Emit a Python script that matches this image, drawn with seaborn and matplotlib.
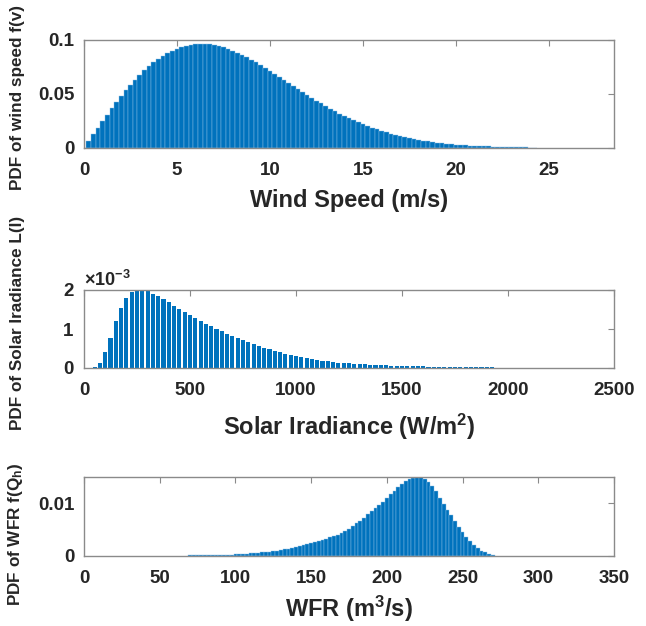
import numpy as np
import pandas as pd
import matplotlib
matplotlib.use("Agg")
import matplotlib.pyplot as plt
from matplotlib.ticker import FuncFormatter
import seaborn as sns

# PDF of wind speed, one bar every 0.25 m/s starting at 0
wind_start, wind_step = 0.0, 0.25
wind_pdf = [0.0, 0.0063, 0.0126, 0.0188, 0.0249, 0.0310, 0.0368, 0.0425, 0.0480, 0.0533,
            0.0583, 0.0631, 0.0676, 0.0718, 0.0757, 0.0793, 0.0825, 0.0854, 0.0880, 0.0902,
            0.0921, 0.0936, 0.0948, 0.0956, 0.0962, 0.0964, 0.0963, 0.0959, 0.0952, 0.0943,
            0.0931, 0.0917, 0.0900, 0.0882, 0.0862, 0.0840, 0.0817, 0.0793, 0.0768, 0.0741,
            0.0714, 0.0687, 0.0659, 0.0631, 0.0603, 0.0575, 0.0547, 0.0519, 0.0492, 0.0465,
            0.0439, 0.0413, 0.0389, 0.0365, 0.0342, 0.0319, 0.0298, 0.0277, 0.0258, 0.0239,
            0.0221, 0.0205, 0.0188, 0.0173, 0.0159, 0.0146, 0.0134, 0.0122, 0.0112, 0.0102,
            0.0093, 0.0084, 0.0076, 0.0069, 0.0062, 0.0056, 0.0050, 0.0045, 0.0041, 0.0036,
            0.0032, 0.0029, 0.0026, 0.0023, 0.0020, 0.0018, 0.0016, 0.0014, 0.0012, 0.0011,
            0.00095, 0.00083, 0.00073, 0.00064, 0.00055, 0.00049, 0.0004, 0.00037]

# PDF of solar irradiance, one bar every 25 W/m2 starting at 50
solar_start, solar_step = 50.0, 25.0
solar_pdf = [0.00002, 0.00012, 0.00040, 0.00078, 0.00120, 0.00155, 0.00180, 0.00194, 0.00199, 0.00200,
             0.00197, 0.00191, 0.00184, 0.00177, 0.00169, 0.00160, 0.00152, 0.00144, 0.00136, 0.00128,
             0.00121, 0.00114, 0.00107, 0.00100, 0.00094, 0.00088, 0.00082, 0.00077, 0.00072, 0.00067,
             0.00062, 0.00057, 0.00052, 0.00048, 0.00044, 0.00040, 0.00036, 0.00033, 0.00030, 0.00027,
             0.00025, 0.00023, 0.00021, 0.00019, 0.00017, 0.000155, 0.00014, 0.00013, 0.00012, 0.00011,
             0.00010, 0.000094, 0.000087, 0.000080, 0.000074, 0.000068, 0.000063, 0.000058, 0.000054, 0.000050,
             0.000046, 0.000043, 0.000040, 0.000037, 0.000034, 0.000032, 0.000030, 0.000028, 0.000026, 0.000024,
             0.000022, 0.000021, 0.000020, 0.000019, 0.000018, 0.000017]

# PDF of water flow rate, one bar every 2.5 m3/s starting at 70
wfr_start, wfr_step = 70.0, 2.5
wfr_pdf = [0.00010, 0.00011, 0.00012, 0.00013, 0.00014, 0.00016, 0.00017, 0.00019, 0.00021, 0.00023,
           0.00025, 0.00027, 0.00030, 0.00033, 0.00036, 0.00040, 0.00048, 0.00054, 0.00060, 0.00067,
           0.00076, 0.00084, 0.00093, 0.00103, 0.00114, 0.00126, 0.00140, 0.00155, 0.00170, 0.00187,
           0.00204, 0.00222, 0.00242, 0.00262, 0.00283, 0.00305, 0.00328, 0.00352, 0.00378, 0.00406,
           0.00436, 0.00468, 0.0052, 0.0057, 0.0062, 0.0067, 0.0073, 0.0079, 0.0085, 0.0091,
           0.0097, 0.0103, 0.0110, 0.0117, 0.0124, 0.0131, 0.0137, 0.0142, 0.0146, 0.0149,
           0.0150, 0.0150, 0.0147, 0.0141, 0.0133, 0.0123, 0.0111, 0.0099, 0.0088, 0.0077,
           0.0066, 0.0056, 0.0046, 0.0037, 0.0029, 0.0021, 0.0015, 0.0010, 0.0007, 0.0004,
           0.0002]

wind_ticks = [0, 5, 10, 15, 20, 25]
solar_ticks = [0, 500, 1000, 1500, 2000, 2500]
wfr_ticks = [0, 50, 100, 150, 200, 250, 300, 350]

sns.set_theme(style="white")
plt.rcParams["font.family"] = ["Liberation Sans", "DejaVu Sans"]
plt.rcParams["font.weight"] = "bold"
plt.rcParams["mathtext.fontset"] = "custom"
plt.rcParams["mathtext.bf"] = "Liberation Sans:bold"
plt.rcParams["mathtext.rm"] = "Liberation Sans:bold"
plt.rcParams["mathtext.default"] = "bf"

BLUE = "#0072BD"
LIGHT = "#8fc0e6"
EDGE = "#8a8a8a"
TXT = "#262626"


def pdf_bars(ax, start, step, vals, shrink, lw):
    df = pd.DataFrame({"x": start + step * np.arange(len(vals)), "w": vals})
    lo = start - step / 2
    hi = df["x"].iloc[-1] + step / 2
    sns.histplot(data=df, x="x", weights="w", binwidth=step, binrange=(lo, hi),
                 shrink=shrink, color=BLUE, alpha=1, linewidth=lw, edgecolor=LIGHT, ax=ax)


def style(ax, xlabel, ylabel, ylab_pos, xpad):
    for s in ax.spines.values():
        s.set_color(EDGE)
        s.set_linewidth(1.0)
    ax.tick_params(direction="in", length=4, width=0.8, color=EDGE,
                   top=True, right=True, labelsize=13.5, labelcolor=TXT)
    ax.tick_params(axis="x", pad=10)
    ax.tick_params(axis="y", pad=7)
    for lab in ax.get_xticklabels() + ax.get_yticklabels():
        lab.set_fontweight("bold")
    ax.set_xlabel(xlabel, fontsize=17, fontweight="bold", color=TXT, labelpad=xpad)
    ax.set_ylabel(ylabel, fontsize=12.3, fontweight="bold", color=TXT)
    ax.yaxis.set_label_coords(-0.112, ylab_pos)


fig = plt.figure(figsize=(6.46, 6.26), dpi=100)
W, H = 646, 626


def axes_px(left, top, right, bottom):
    return fig.add_axes([left / W, 1 - bottom / H, (right - left) / W, (bottom - top) / H])


gfmt = FuncFormatter(lambda v, p: "%g" % v)

ax1 = axes_px(84, 40, 614, 148)
pdf_bars(ax1, wind_start, wind_step, wind_pdf, 1.0, 0.3)
ax1.set_xlim(0, 28.5)
ax1.set_ylim(0, 0.1)
ax1.set_xticks(wind_ticks)
ax1.set_yticks([0, 0.05, 0.1])
ax1.yaxis.set_major_formatter(gfmt)
style(ax1, "Wind Speed (m/s)", "PDF of wind speed f(v)", 0.47, 7)

ax2 = axes_px(84, 290, 614, 368)
pdf_bars(ax2, solar_start, solar_step, solar_pdf, 0.78, 0)
ax2.set_xlim(0, 2500)
ax2.set_ylim(0, 0.002)
ax2.set_xticks(solar_ticks)
ax2.set_yticks([0, 0.001, 0.002])
ax2.ticklabel_format(axis="y", style="sci", scilimits=(0, 0), useMathText=True)
ax2.yaxis.get_offset_text().set_fontsize(13)
ax2.yaxis.get_offset_text().set_color(TXT)
style(ax2, "Solar Iradiance (W/m$^{2}$)", "PDF of Solar Iradiance L(I)", 0.58, 9)

ax3 = axes_px(84, 477, 614, 556)
pdf_bars(ax3, wfr_start, wfr_step, wfr_pdf, 1.0, 0.3)
ax3.set_xlim(0, 350)
ax3.set_ylim(0, 0.015)
ax3.set_xticks(wfr_ticks)
ax3.set_yticks([0, 0.01])
ax3.yaxis.set_major_formatter(gfmt)
style(ax3, "WFR (m$^{3}$/s)", "PDF of WFR f(Q$_{h}$)", 0.27, 5)

fig.savefig("out.png", dpi=100)
